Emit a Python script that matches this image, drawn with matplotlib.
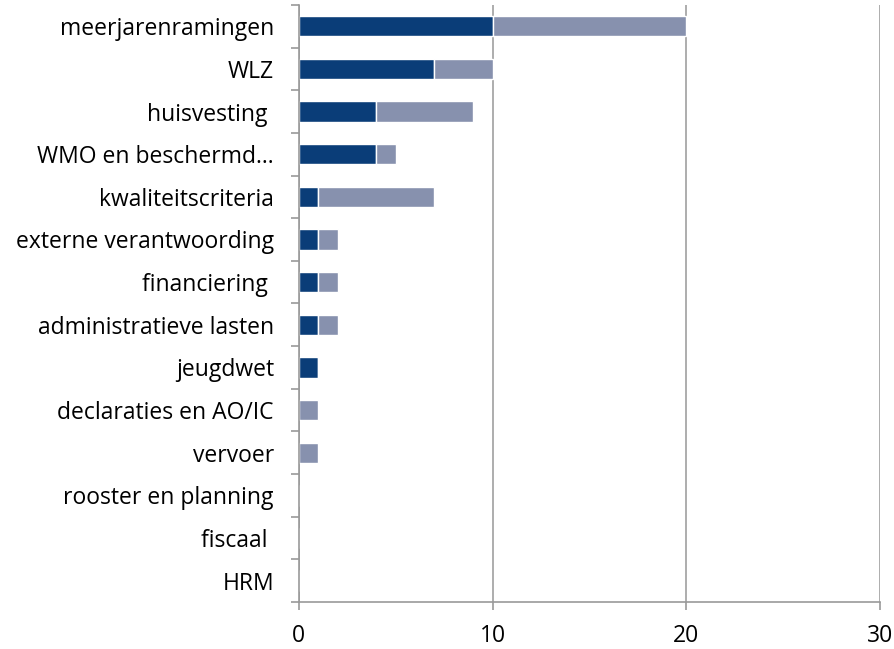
import numpy as np
import matplotlib.pyplot as plt

categories = ["meerjarenramingen", "WLZ", "huisvesting ", "WMO en beschermd…",
              "kwaliteitscriteria", "externe verantwoording", "financiering ",
              "administratieve lasten", "jeugdwet", "declaraties en AO/IC",
              "vervoer", "rooster en planning", "fiscaal ", "HRM"]
serie1 = [10, 7, 4, 4, 1, 1, 1, 1, 1, 0, 0, 0, 0, 0]
serie2 = [10, 3, 5, 1, 6, 1, 1, 1, 0, 1, 1, 0, 0, 0]
xticks = [0, 10, 20, 30]

plt.rcParams['font.family'] = ['Open Sans', 'DejaVu Sans']

fig = plt.figure(figsize=(8.95, 6.49), dpi=100)
ax = fig.add_axes([0.334, 0.0724, 0.649, 0.92])

y = np.arange(len(categories))
ax.barh(y, serie1, height=0.48, color='#0A3D78', edgecolor='white', linewidth=1, zorder=2)
ax.barh(y, serie2, left=serie1, height=0.48, color='#8791AE', edgecolor='white', linewidth=1, zorder=2)

ax.set_ylim(len(categories) - 0.5, -0.5)
ax.set_xlim(0, 30)
ax.set_xticks(xticks)
ax.set_yticks(y)
ax.set_yticklabels(categories)
ax.set_yticks(np.arange(len(categories) + 1) - 0.5, minor=True)
ax.tick_params(axis='y', which='major', length=0, pad=18, labelsize=16.5)
ax.tick_params(axis='y', which='minor', length=6, color='#999999', width=1.2)
ax.tick_params(axis='x', length=6, color='#999999', width=1.2, pad=10, labelsize=16.5)

ax.grid(axis='x', color='#A0A0A0', linewidth=1.2, zorder=1)
ax.set_axisbelow(True)
for s in ['top', 'right']:
    ax.spines[s].set_visible(False)
for s in ['left', 'bottom']:
    ax.spines[s].set_color('#999999')
    ax.spines[s].set_linewidth(1.2)
    ax.spines[s].set_zorder(3)

fig.savefig('out.png', dpi=100)
